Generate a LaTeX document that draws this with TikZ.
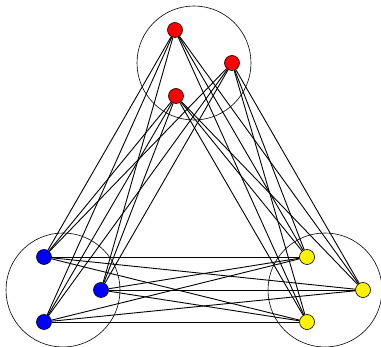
\documentclass[tikz,border=0pt]{standalone}
\usepackage{tikz}

\tikzset{
  vert/.style={circle,draw=black,line width=0.6pt,minimum size=15pt,inner sep=0pt},
  group/.style={draw=black,line width=0.6pt},
  link/.style={draw=black,line width=0.9pt}
}

\begin{document}
\begin{tikzpicture}[x=1pt,y=-1pt]

\useasboundingbox (0,0) rectangle (381,347);

% group circles
\draw[group] (194,63) circle (57);
\draw[group] (63,290) circle (57);
\draw[group] (325,290) circle (57);

% red group
\node[vert,fill=red] (r1) at (175,30) {};
\node[vert,fill=red] (r2) at (232,63) {};
\node[vert,fill=red] (r3) at (176,96) {};

% blue group
\node[vert,fill=blue] (b1) at (44,257) {};
\node[vert,fill=blue] (b2) at (101,290) {};
\node[vert,fill=blue] (b3) at (44,322) {};

% yellow group
\node[vert,fill=yellow] (y1) at (307,257) {};
\node[vert,fill=yellow] (y2) at (363,290) {};
\node[vert,fill=yellow] (y3) at (307,322) {};

\foreach \i in {1,2,3} {
  \foreach \j in {1,2,3} {
    \draw[link] (r\i) -- (b\j);
    \draw[link] (r\i) -- (y\j);
    \draw[link] (b\i) -- (y\j);
  }
}

\end{tikzpicture}
\end{document}
